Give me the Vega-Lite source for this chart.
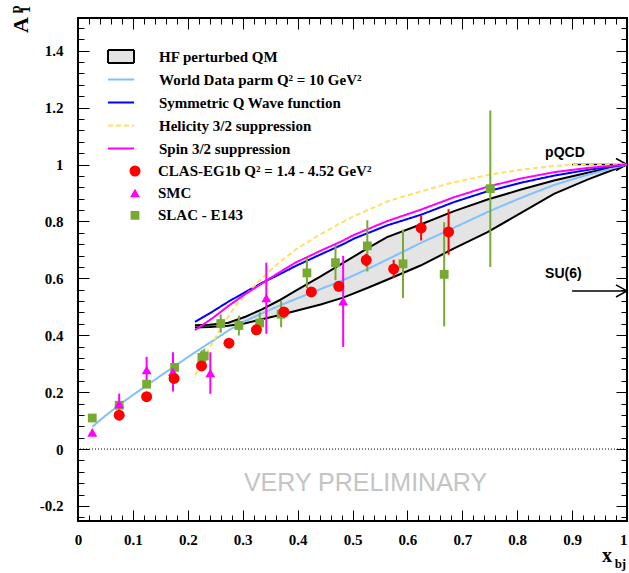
{
  "$schema": "https://vega.github.io/schema/vega-lite/v6.json",
  "width": 549,
  "height": 503,
  "autosize": "none",
  "padding": {"left": 78, "top": 18, "right": 2, "bottom": 52},
  "background": "white",
  "config": {
    "view": {"stroke": "black", "strokeWidth": 2},
    "axis": {"grid": false, "domain": false, "tickColor": "black", "tickWidth": 1, "title": null}
  },
  "data": {"values": [{}]},
  "datasets": {
    "band": [
      {"x": 0.213, "lo": 0.427, "hi": 0.435},
      {"x": 0.24, "lo": 0.429, "hi": 0.437},
      {"x": 0.274, "lo": 0.433, "hi": 0.444},
      {"x": 0.305, "lo": 0.442, "hi": 0.465},
      {"x": 0.335, "lo": 0.456, "hi": 0.491},
      {"x": 0.366, "lo": 0.47, "hi": 0.522},
      {"x": 0.396, "lo": 0.485, "hi": 0.556},
      {"x": 0.442, "lo": 0.508, "hi": 0.607},
      {"x": 0.483, "lo": 0.532, "hi": 0.654},
      {"x": 0.527, "lo": 0.566, "hi": 0.705},
      {"x": 0.563, "lo": 0.595, "hi": 0.745},
      {"x": 0.624, "lo": 0.645, "hi": 0.789},
      {"x": 0.685, "lo": 0.705, "hi": 0.836},
      {"x": 0.746, "lo": 0.762, "hi": 0.877},
      {"x": 0.807, "lo": 0.83, "hi": 0.912},
      {"x": 0.867, "lo": 0.897, "hi": 0.944},
      {"x": 0.928, "lo": 0.947, "hi": 0.971},
      {"x": 1.0, "lo": 1.0, "hi": 1.0}
    ],
    "curves": [
      {"curve": "World Data parm Q² = 10 GeV²", "x": 0.026, "a1": 0.078},
      {"curve": "World Data parm Q² = 10 GeV²", "x": 0.05, "a1": 0.117},
      {"curve": "World Data parm Q² = 10 GeV²", "x": 0.075, "a1": 0.155},
      {"curve": "World Data parm Q² = 10 GeV²", "x": 0.1, "a1": 0.19},
      {"curve": "World Data parm Q² = 10 GeV²", "x": 0.125, "a1": 0.223},
      {"curve": "World Data parm Q² = 10 GeV²", "x": 0.15, "a1": 0.257},
      {"curve": "World Data parm Q² = 10 GeV²", "x": 0.175, "a1": 0.29},
      {"curve": "World Data parm Q² = 10 GeV²", "x": 0.2, "a1": 0.323},
      {"curve": "World Data parm Q² = 10 GeV²", "x": 0.225, "a1": 0.355},
      {"curve": "World Data parm Q² = 10 GeV²", "x": 0.25, "a1": 0.386},
      {"curve": "World Data parm Q² = 10 GeV²", "x": 0.275, "a1": 0.418},
      {"curve": "World Data parm Q² = 10 GeV²", "x": 0.305, "a1": 0.45},
      {"curve": "World Data parm Q² = 10 GeV²", "x": 0.335, "a1": 0.477},
      {"curve": "World Data parm Q² = 10 GeV²", "x": 0.366, "a1": 0.503},
      {"curve": "World Data parm Q² = 10 GeV²", "x": 0.396, "a1": 0.527},
      {"curve": "World Data parm Q² = 10 GeV²", "x": 0.426, "a1": 0.55},
      {"curve": "World Data parm Q² = 10 GeV²", "x": 0.481, "a1": 0.592},
      {"curve": "World Data parm Q² = 10 GeV²", "x": 0.527, "a1": 0.632},
      {"curve": "World Data parm Q² = 10 GeV²", "x": 0.563, "a1": 0.666},
      {"curve": "World Data parm Q² = 10 GeV²", "x": 0.624, "a1": 0.724},
      {"curve": "World Data parm Q² = 10 GeV²", "x": 0.685, "a1": 0.778},
      {"curve": "World Data parm Q² = 10 GeV²", "x": 0.746, "a1": 0.833},
      {"curve": "World Data parm Q² = 10 GeV²", "x": 0.807, "a1": 0.883},
      {"curve": "World Data parm Q² = 10 GeV²", "x": 0.867, "a1": 0.928},
      {"curve": "World Data parm Q² = 10 GeV²", "x": 0.928, "a1": 0.964},
      {"curve": "World Data parm Q² = 10 GeV²", "x": 1.0, "a1": 1.0},
      {"curve": "Symmetric Q Wave function", "x": 0.213, "a1": 0.447},
      {"curve": "Symmetric Q Wave function", "x": 0.245, "a1": 0.483},
      {"curve": "Symmetric Q Wave function", "x": 0.274, "a1": 0.518},
      {"curve": "Symmetric Q Wave function", "x": 0.305, "a1": 0.552},
      {"curve": "Symmetric Q Wave function", "x": 0.335, "a1": 0.584},
      {"curve": "Symmetric Q Wave function", "x": 0.366, "a1": 0.613},
      {"curve": "Symmetric Q Wave function", "x": 0.396, "a1": 0.643},
      {"curve": "Symmetric Q Wave function", "x": 0.442, "a1": 0.684},
      {"curve": "Symmetric Q Wave function", "x": 0.481, "a1": 0.718},
      {"curve": "Symmetric Q Wave function", "x": 0.502, "a1": 0.739},
      {"curve": "Symmetric Q Wave function", "x": 0.563, "a1": 0.786},
      {"curve": "Symmetric Q Wave function", "x": 0.624, "a1": 0.823},
      {"curve": "Symmetric Q Wave function", "x": 0.685, "a1": 0.868},
      {"curve": "Symmetric Q Wave function", "x": 0.746, "a1": 0.906},
      {"curve": "Symmetric Q Wave function", "x": 0.807, "a1": 0.936},
      {"curve": "Symmetric Q Wave function", "x": 0.867, "a1": 0.961},
      {"curve": "Symmetric Q Wave function", "x": 0.928, "a1": 0.981},
      {"curve": "Symmetric Q Wave function", "x": 1.0, "a1": 1.0},
      {"curve": "Helicity 3/2 suppression", "x": 0.2135, "a1": 0.26},
      {"curve": "Helicity 3/2 suppression", "x": 0.235, "a1": 0.34},
      {"curve": "Helicity 3/2 suppression", "x": 0.253, "a1": 0.4},
      {"curve": "Helicity 3/2 suppression", "x": 0.268, "a1": 0.45},
      {"curve": "Helicity 3/2 suppression", "x": 0.286, "a1": 0.5},
      {"curve": "Helicity 3/2 suppression", "x": 0.311, "a1": 0.553},
      {"curve": "Helicity 3/2 suppression", "x": 0.335, "a1": 0.6},
      {"curve": "Helicity 3/2 suppression", "x": 0.366, "a1": 0.655},
      {"curve": "Helicity 3/2 suppression", "x": 0.396, "a1": 0.7},
      {"curve": "Helicity 3/2 suppression", "x": 0.426, "a1": 0.737},
      {"curve": "Helicity 3/2 suppression", "x": 0.442, "a1": 0.755},
      {"curve": "Helicity 3/2 suppression", "x": 0.481, "a1": 0.797},
      {"curve": "Helicity 3/2 suppression", "x": 0.502, "a1": 0.818},
      {"curve": "Helicity 3/2 suppression", "x": 0.563, "a1": 0.87},
      {"curve": "Helicity 3/2 suppression", "x": 0.624, "a1": 0.905},
      {"curve": "Helicity 3/2 suppression", "x": 0.679, "a1": 0.935},
      {"curve": "Helicity 3/2 suppression", "x": 0.746, "a1": 0.963},
      {"curve": "Helicity 3/2 suppression", "x": 0.807, "a1": 0.982},
      {"curve": "Helicity 3/2 suppression", "x": 0.867, "a1": 0.995},
      {"curve": "Helicity 3/2 suppression", "x": 0.9, "a1": 0.999},
      {"curve": "Helicity 3/2 suppression", "x": 1.0, "a1": 1.0},
      {"curve": "Spin 3/2 suppression", "x": 0.213, "a1": 0.418},
      {"curve": "Spin 3/2 suppression", "x": 0.245, "a1": 0.46},
      {"curve": "Spin 3/2 suppression", "x": 0.274, "a1": 0.503},
      {"curve": "Spin 3/2 suppression", "x": 0.305, "a1": 0.545},
      {"curve": "Spin 3/2 suppression", "x": 0.335, "a1": 0.582},
      {"curve": "Spin 3/2 suppression", "x": 0.366, "a1": 0.62},
      {"curve": "Spin 3/2 suppression", "x": 0.396, "a1": 0.655},
      {"curve": "Spin 3/2 suppression", "x": 0.442, "a1": 0.697},
      {"curve": "Spin 3/2 suppression", "x": 0.481, "a1": 0.731},
      {"curve": "Spin 3/2 suppression", "x": 0.502, "a1": 0.752},
      {"curve": "Spin 3/2 suppression", "x": 0.563, "a1": 0.801},
      {"curve": "Spin 3/2 suppression", "x": 0.624, "a1": 0.841},
      {"curve": "Spin 3/2 suppression", "x": 0.685, "a1": 0.885},
      {"curve": "Spin 3/2 suppression", "x": 0.746, "a1": 0.922},
      {"curve": "Spin 3/2 suppression", "x": 0.807, "a1": 0.951},
      {"curve": "Spin 3/2 suppression", "x": 0.867, "a1": 0.973},
      {"curve": "Spin 3/2 suppression", "x": 0.928, "a1": 0.988},
      {"curve": "Spin 3/2 suppression", "x": 1.0, "a1": 1.0}
    ],
    "points": [
      {"exp": "SLAC - E143", "x": 0.026, "y": 0.109, "err": 0.005},
      {"exp": "SLAC - E143", "x": 0.075, "y": 0.154, "err": 0.01},
      {"exp": "SLAC - E143", "x": 0.125, "y": 0.228, "err": 0.012},
      {"exp": "SLAC - E143", "x": 0.176, "y": 0.287, "err": 0.015},
      {"exp": "SLAC - E143", "x": 0.2257, "y": 0.322, "err": 0.025},
      {"exp": "SLAC - E143", "x": 0.23, "y": 0.327, "err": 0.025},
      {"exp": "SLAC - E143", "x": 0.26, "y": 0.441, "err": 0.032},
      {"exp": "SLAC - E143", "x": 0.293, "y": 0.434, "err": 0.035},
      {"exp": "SLAC - E143", "x": 0.331, "y": 0.443, "err": 0.037},
      {"exp": "SLAC - E143", "x": 0.37, "y": 0.474, "err": 0.046},
      {"exp": "SLAC - E143", "x": 0.417, "y": 0.619, "err": 0.053},
      {"exp": "SLAC - E143", "x": 0.469, "y": 0.655, "err": 0.062},
      {"exp": "SLAC - E143", "x": 0.527, "y": 0.714, "err": 0.09},
      {"exp": "SLAC - E143", "x": 0.592, "y": 0.651, "err": 0.12},
      {"exp": "SLAC - E143", "x": 0.667, "y": 0.614, "err": 0.183},
      {"exp": "SLAC - E143", "x": 0.751, "y": 0.915, "err": 0.275},
      {"exp": "SMC", "x": 0.026, "y": 0.058, "err": 0.006},
      {"exp": "SMC", "x": 0.075, "y": 0.158, "err": 0.037},
      {"exp": "SMC", "x": 0.125, "y": 0.277, "err": 0.047},
      {"exp": "SMC", "x": 0.173, "y": 0.271, "err": 0.069},
      {"exp": "SMC", "x": 0.241, "y": 0.267, "err": 0.073},
      {"exp": "SMC", "x": 0.343, "y": 0.53, "err": 0.125},
      {"exp": "SMC", "x": 0.483, "y": 0.519, "err": 0.16},
      {"exp": "CLAS-EG1b Q² = 1.4 - 4.52 GeV²", "x": 0.075, "y": 0.119, "err": 0.006},
      {"exp": "CLAS-EG1b Q² = 1.4 - 4.52 GeV²", "x": 0.125, "y": 0.184, "err": 0.007},
      {"exp": "CLAS-EG1b Q² = 1.4 - 4.52 GeV²", "x": 0.175, "y": 0.248, "err": 0.008},
      {"exp": "CLAS-EG1b Q² = 1.4 - 4.52 GeV²", "x": 0.225, "y": 0.292, "err": 0.009},
      {"exp": "CLAS-EG1b Q² = 1.4 - 4.52 GeV²", "x": 0.275, "y": 0.372, "err": 0.01},
      {"exp": "CLAS-EG1b Q² = 1.4 - 4.52 GeV²", "x": 0.325, "y": 0.419, "err": 0.012},
      {"exp": "CLAS-EG1b Q² = 1.4 - 4.52 GeV²", "x": 0.375, "y": 0.482, "err": 0.014},
      {"exp": "CLAS-EG1b Q² = 1.4 - 4.52 GeV²", "x": 0.425, "y": 0.552, "err": 0.016},
      {"exp": "CLAS-EG1b Q² = 1.4 - 4.52 GeV²", "x": 0.475, "y": 0.572, "err": 0.018},
      {"exp": "CLAS-EG1b Q² = 1.4 - 4.52 GeV²", "x": 0.525, "y": 0.664, "err": 0.022},
      {"exp": "CLAS-EG1b Q² = 1.4 - 4.52 GeV²", "x": 0.575, "y": 0.633, "err": 0.032},
      {"exp": "CLAS-EG1b Q² = 1.4 - 4.52 GeV²", "x": 0.625, "y": 0.777, "err": 0.044},
      {"exp": "CLAS-EG1b Q² = 1.4 - 4.52 GeV²", "x": 0.675, "y": 0.763, "err": 0.08}
    ],
    "limits": [
      {"model": "pQCD", "a1": 1.0, "xs": 0.9, "xe": 1.0},
      {"model": "SU(6)", "a1": 0.5556, "xs": 0.9, "xe": 1.0}
    ]
  },
  "resolve": {"axis": {"x": "independent", "y": "independent"}},
  "layer": [
    {
      "data": {"name": "band"},
      "mark": {"type": "area", "fill": "#e4e4e4"},
      "encoding": {
        "x": {"field": "x", "type": "quantitative", "scale": {"domain": [0, 1], "nice": false, "zero": false},
          "axis": {"orient": "bottom", "values": [0, 0.1, 0.2, 0.3, 0.4, 0.5, 0.6, 0.7, 0.8, 0.9, 1], "tickSize": -11, "labelFont": "Liberation Serif", "labelFontWeight": "bold", "labelFontSize": 15, "labelColor": "black", "labelPadding": 22, "labelFlush": false, "labelOverlap": false, "labelExpr": "datum.value + ''",
            "labelAlign": {"condition": {"test": "datum.value === 1", "value": "right"}, "value": "center"}}},
        "y": {"field": "lo", "type": "quantitative", "scale": {"domain": [-0.253, 1.515], "nice": false, "zero": false},
          "axis": {"orient": "left", "values": [-0.2, 0, 0.2, 0.4, 0.6, 0.8, 1, 1.2, 1.4], "tickSize": -11, "labelFont": "Liberation Serif", "labelFontWeight": "bold", "labelFontSize": 15, "labelColor": "black", "labelPadding": 26, "labelFlush": false, "labelOverlap": false, "labelExpr": "datum.value + ''"}},
        "y2": {"field": "hi"}
      }
    },
    {
      "data": {"name": "band"},
      "mark": {"type": "line", "stroke": "black", "strokeWidth": 2},
      "encoding": {
        "x": {"field": "x", "type": "quantitative", "scale": {"domain": [0, 1], "nice": false, "zero": false},
          "axis": {"orient": "bottom", "values": [0.02, 0.04, 0.06, 0.08, 0.12, 0.14, 0.16, 0.18, 0.22, 0.24, 0.26, 0.28, 0.32, 0.34, 0.36, 0.38, 0.42, 0.44, 0.46, 0.48, 0.52, 0.54, 0.56, 0.58, 0.62, 0.64, 0.66, 0.68, 0.72, 0.74, 0.76, 0.78, 0.82, 0.84, 0.86, 0.88, 0.92, 0.94, 0.96, 0.98], "tickSize": -6, "labels": false}},
        "y": {"field": "hi", "type": "quantitative", "scale": {"domain": [-0.253, 1.515], "nice": false, "zero": false},
          "axis": {"orient": "left", "values": [-0.24, -0.16, -0.12, -0.08, -0.04, 0.04, 0.08, 0.12, 0.16, 0.24, 0.28, 0.32, 0.36, 0.44, 0.48, 0.52, 0.56, 0.64, 0.68, 0.72, 0.76, 0.84, 0.88, 0.92, 0.96, 1.04, 1.08, 1.12, 1.16, 1.24, 1.28, 1.32, 1.36, 1.44, 1.48], "tickSize": -6, "labels": false}}
      }
    },
    {
      "data": {"name": "band"},
      "mark": {"type": "line", "stroke": "black", "strokeWidth": 2},
      "encoding": {
        "x": {"field": "x", "type": "quantitative", "scale": {"domain": [0, 1], "nice": false, "zero": false},
          "axis": {"orient": "top", "values": [0, 0.1, 0.2, 0.3, 0.4, 0.5, 0.6, 0.7, 0.8, 0.9, 1], "tickSize": -11, "labels": false}},
        "y": {"field": "lo", "type": "quantitative", "scale": {"domain": [-0.253, 1.515], "nice": false, "zero": false},
          "axis": {"orient": "right", "values": [-0.2, 0, 0.2, 0.4, 0.6, 0.8, 1, 1.2, 1.4], "tickSize": -11, "labels": false}}
      }
    },
    {
      "data": {"name": "limits"},
      "mark": {"type": "rule", "stroke": "black", "strokeWidth": 1.5},
      "encoding": {
        "x": {"field": "xs", "type": "quantitative", "scale": {"domain": [0, 1], "nice": false, "zero": false}, "axis": null},
        "x2": {"field": "xe"},
        "y": {"field": "a1", "type": "quantitative", "scale": {"domain": [-0.253, 1.515], "nice": false, "zero": false}, "axis": null}
      }
    },
    {
      "data": {"name": "limits"},
      "mark": {"type": "point", "shape": "M-1,-0.55L0,0L-1,0.55", "filled": false, "stroke": "black", "strokeWidth": 1.5, "size": 484, "opacity": 1},
      "encoding": {
        "x": {"field": "xe", "type": "quantitative", "scale": {"domain": [0, 1], "nice": false, "zero": false}, "axis": null},
        "y": {"field": "a1", "type": "quantitative", "scale": {"domain": [-0.253, 1.515], "nice": false, "zero": false}, "axis": null}
      }
    },
    {
      "data": {"name": "curves"},
      "mark": {"type": "line", "strokeWidth": 2},
      "encoding": {
        "x": {"field": "x", "type": "quantitative", "scale": {"domain": [0, 1], "nice": false, "zero": false},
          "axis": {"orient": "top", "values": [0.02, 0.04, 0.06, 0.08, 0.12, 0.14, 0.16, 0.18, 0.22, 0.24, 0.26, 0.28, 0.32, 0.34, 0.36, 0.38, 0.42, 0.44, 0.46, 0.48, 0.52, 0.54, 0.56, 0.58, 0.62, 0.64, 0.66, 0.68, 0.72, 0.74, 0.76, 0.78, 0.82, 0.84, 0.86, 0.88, 0.92, 0.94, 0.96, 0.98], "tickSize": -6, "labels": false}},
        "y": {"field": "a1", "type": "quantitative", "scale": {"domain": [-0.253, 1.515], "nice": false, "zero": false},
          "axis": {"orient": "right", "values": [-0.24, -0.16, -0.12, -0.08, -0.04, 0.04, 0.08, 0.12, 0.16, 0.24, 0.28, 0.32, 0.36, 0.44, 0.48, 0.52, 0.56, 0.64, 0.68, 0.72, 0.76, 0.84, 0.88, 0.92, 0.96, 1.04, 1.08, 1.12, 1.16, 1.24, 1.28, 1.32, 1.36, 1.44, 1.48], "tickSize": -6, "labels": false}},
        "stroke": {"field": "curve", "type": "nominal",
          "scale": {"domain": ["HF perturbed QM", "World Data parm Q² = 10 GeV²", "Symmetric Q Wave function", "Helicity 3/2 suppression", "Spin 3/2 suppression"], "range": ["black", "#80c0ff", "#0000ff", "#ffe066", "#ff00ff"]},
          "legend": {"title": null, "orient": "none", "legendX": 29, "legendY": 28, "padding": 0, "symbolType": "stroke", "symbolSize": 676, "symbolStrokeWidth": 2, "labelFont": "Liberation Serif", "labelFontWeight": "bold", "labelFontSize": 15, "labelColor": "black", "labelOffset": 24, "labelLimit": 400, "clipHeight": 21, "rowPadding": 2,
            "encode": {"symbols": {"update": {"shape": {"signal": "datum.value === 'HF perturbed QM' ? 'M-1,-0.5H1V0.5H-1Z' : 'stroke'"}, "fill": {"signal": "datum.value === 'HF perturbed QM' ? '#e4e4e4' : 'transparent'"}}}}}},
        "strokeDash": {"field": "curve", "type": "nominal",
          "scale": {"domain": ["HF perturbed QM", "World Data parm Q² = 10 GeV²", "Symmetric Q Wave function", "Helicity 3/2 suppression", "Spin 3/2 suppression"], "range": [[1, 0], [1, 0], [1, 0], [5, 3], [1, 0]]},
          "legend": {"title": null, "orient": "none", "legendX": 29, "legendY": 28, "padding": 0, "symbolType": "stroke", "symbolSize": 676, "symbolStrokeWidth": 2, "labelFont": "Liberation Serif", "labelFontWeight": "bold", "labelFontSize": 15, "labelColor": "black", "labelOffset": 24, "labelLimit": 400, "clipHeight": 21, "rowPadding": 2,
            "encode": {"symbols": {"update": {"shape": {"signal": "datum.value === 'HF perturbed QM' ? 'M-1,-0.5H1V0.5H-1Z' : 'stroke'"}, "fill": {"signal": "datum.value === 'HF perturbed QM' ? '#e4e4e4' : 'transparent'"}}}}}}
      }
    },
    {
      "mark": {"type": "rule", "stroke": "black", "strokeWidth": 1, "strokeDash": [1, 2]},
      "encoding": {
        "y": {"datum": 0, "type": "quantitative", "scale": {"domain": [-0.253, 1.515], "nice": false, "zero": false}, "axis": null}
      }
    },
    {
      "data": {"name": "points"},
      "transform": [{"filter": "datum.exp === 'SLAC - E143'"}],
      "mark": {"type": "errorbar", "thickness": 2, "color": "#77aa33"},
      "encoding": {
        "x": {"field": "x", "type": "quantitative", "scale": {"domain": [0, 1], "nice": false, "zero": false}, "axis": null},
        "y": {"field": "y", "type": "quantitative", "scale": {"domain": [-0.253, 1.515], "nice": false, "zero": false}, "axis": null},
        "yError": {"field": "err"}
      }
    },
    {
      "data": {"name": "points"},
      "transform": [{"filter": "datum.exp === 'SMC'"}],
      "mark": {"type": "errorbar", "thickness": 2, "color": "#ff00ff"},
      "encoding": {
        "x": {"field": "x", "type": "quantitative", "scale": {"domain": [0, 1], "nice": false, "zero": false}, "axis": null},
        "y": {"field": "y", "type": "quantitative", "scale": {"domain": [-0.253, 1.515], "nice": false, "zero": false}, "axis": null},
        "yError": {"field": "err"}
      }
    },
    {
      "data": {"name": "points"},
      "transform": [{"filter": "datum.exp === 'CLAS-EG1b Q² = 1.4 - 4.52 GeV²'"}],
      "mark": {"type": "errorbar", "thickness": 2, "color": "#ff0000"},
      "encoding": {
        "x": {"field": "x", "type": "quantitative", "scale": {"domain": [0, 1], "nice": false, "zero": false}, "axis": null},
        "y": {"field": "y", "type": "quantitative", "scale": {"domain": [-0.253, 1.515], "nice": false, "zero": false}, "axis": null},
        "yError": {"field": "err"}
      }
    },
    {
      "data": {"name": "points"},
      "mark": {"type": "point", "filled": true, "size": 121, "opacity": 1, "strokeWidth": 0},
      "encoding": {
        "x": {"field": "x", "type": "quantitative", "scale": {"domain": [0, 1], "nice": false, "zero": false}, "axis": null},
        "y": {"field": "y", "type": "quantitative", "scale": {"domain": [-0.253, 1.515], "nice": false, "zero": false}, "axis": null},
        "color": {"field": "exp", "type": "nominal", "scale": {"domain": ["CLAS-EG1b Q² = 1.4 - 4.52 GeV²", "SMC", "SLAC - E143"], "range": ["#ff0000", "#ff00ff", "#77aa33"]},
          "legend": {"title": null, "orient": "none", "legendX": 49.5, "legendY": 143, "padding": 0, "symbolSize": 121, "symbolOpacity": 1, "symbolStrokeWidth": 0, "labelFont": "Liberation Serif", "labelFontWeight": "bold", "labelFontSize": 15, "labelColor": "black", "labelOffset": 15.5, "labelLimit": 400, "clipHeight": 20, "rowPadding": 2.2}},
        "shape": {"field": "exp", "type": "nominal", "scale": {"domain": ["CLAS-EG1b Q² = 1.4 - 4.52 GeV²", "SMC", "SLAC - E143"], "range": ["circle", "M0,-0.8L0.9,0.75L-0.9,0.75Z", "M-0.8,-0.8H0.8V0.8H-0.8Z"]},
          "legend": {"title": null, "orient": "none", "legendX": 49.5, "legendY": 143, "padding": 0, "symbolSize": 121, "symbolOpacity": 1, "symbolStrokeWidth": 0, "labelFont": "Liberation Serif", "labelFontWeight": "bold", "labelFontSize": 15, "labelColor": "black", "labelOffset": 15.5, "labelLimit": 400, "clipHeight": 20, "rowPadding": 2.2}}
      }
    },
    {
      "data": {"name": "limits"},
      "transform": [{"filter": "datum.model === 'pQCD'"}],
      "mark": {"type": "text", "align": "left", "baseline": "alphabetic", "dx": -27, "dy": -8, "font": "Liberation Sans", "fontWeight": "bold", "fontSize": 14, "color": "black"},
      "encoding": {
        "x": {"field": "xs", "type": "quantitative", "scale": {"domain": [0, 1], "nice": false, "zero": false}, "axis": null},
        "y": {"field": "a1", "type": "quantitative", "scale": {"domain": [-0.253, 1.515], "nice": false, "zero": false}, "axis": null},
        "text": {"field": "model"}
      }
    },
    {
      "data": {"name": "limits"},
      "transform": [{"filter": "datum.model === 'SU(6)'"}],
      "mark": {"type": "text", "align": "left", "baseline": "alphabetic", "dx": -27, "dy": -12.5, "font": "Liberation Sans", "fontWeight": "bold", "fontSize": 14, "color": "black"},
      "encoding": {
        "x": {"field": "xs", "type": "quantitative", "scale": {"domain": [0, 1], "nice": false, "zero": false}, "axis": null},
        "y": {"field": "a1", "type": "quantitative", "scale": {"domain": [-0.253, 1.515], "nice": false, "zero": false}, "axis": null},
        "text": {"field": "model"}
      }
    },
    {
      "mark": {"type": "text", "text": "VERY PRELIMINARY", "align": "center", "baseline": "middle", "font": "Liberation Sans", "fontSize": 25, "color": "#c4c4c4"},
      "encoding": {
        "x": {"datum": 0.5237, "type": "quantitative", "scale": {"domain": [0, 1], "nice": false, "zero": false}, "axis": null},
        "y": {"datum": -0.1194, "type": "quantitative", "scale": {"domain": [-0.253, 1.515], "nice": false, "zero": false}, "axis": null}
      }
    },
    {
      "mark": {"type": "text", "text": "A", "angle": 270, "align": "center", "baseline": "middle", "font": "Liberation Serif", "fontWeight": "bold", "fontSize": 22, "color": "black"},
      "encoding": {
        "x": {"datum": -0.1038, "type": "quantitative", "scale": {"domain": [0, 1], "nice": false, "zero": false}, "axis": null},
        "y": {"datum": 1.49, "type": "quantitative", "scale": {"domain": [-0.253, 1.515], "nice": false, "zero": false}, "axis": null}
      }
    },
    {
      "mark": {"type": "text", "text": "p", "angle": 270, "align": "center", "baseline": "middle", "font": "Liberation Serif", "fontWeight": "bold", "fontSize": 14, "color": "black"},
      "encoding": {
        "x": {"datum": -0.113, "type": "quantitative", "scale": {"domain": [0, 1], "nice": false, "zero": false}, "axis": null},
        "y": {"datum": 1.545, "type": "quantitative", "scale": {"domain": [-0.253, 1.515], "nice": false, "zero": false}, "axis": null}
      }
    },
    {
      "mark": {"type": "text", "text": "1", "angle": 270, "align": "center", "baseline": "middle", "font": "Liberation Serif", "fontWeight": "bold", "fontSize": 14, "color": "black"},
      "encoding": {
        "x": {"datum": -0.0947, "type": "quantitative", "scale": {"domain": [0, 1], "nice": false, "zero": false}, "axis": null},
        "y": {"datum": 1.545, "type": "quantitative", "scale": {"domain": [-0.253, 1.515], "nice": false, "zero": false}, "axis": null}
      }
    },
    {
      "mark": {"type": "text", "text": "x", "align": "center", "baseline": "alphabetic", "font": "Liberation Serif", "fontWeight": "bold", "fontSize": 20, "color": "black"},
      "encoding": {
        "x": {"datum": 0.9636, "type": "quantitative", "scale": {"domain": [0, 1], "nice": false, "zero": false}, "axis": null},
        "y": {"datum": -0.397, "type": "quantitative", "scale": {"domain": [-0.253, 1.515], "nice": false, "zero": false}, "axis": null}
      }
    },
    {
      "mark": {"type": "text", "text": "bj", "align": "center", "baseline": "alphabetic", "font": "Liberation Serif", "fontWeight": "bold", "fontSize": 13, "color": "black"},
      "encoding": {
        "x": {"datum": 0.988, "type": "quantitative", "scale": {"domain": [0, 1], "nice": false, "zero": false}, "axis": null},
        "y": {"datum": -0.418, "type": "quantitative", "scale": {"domain": [-0.253, 1.515], "nice": false, "zero": false}, "axis": null}
      }
    }
  ]
}
